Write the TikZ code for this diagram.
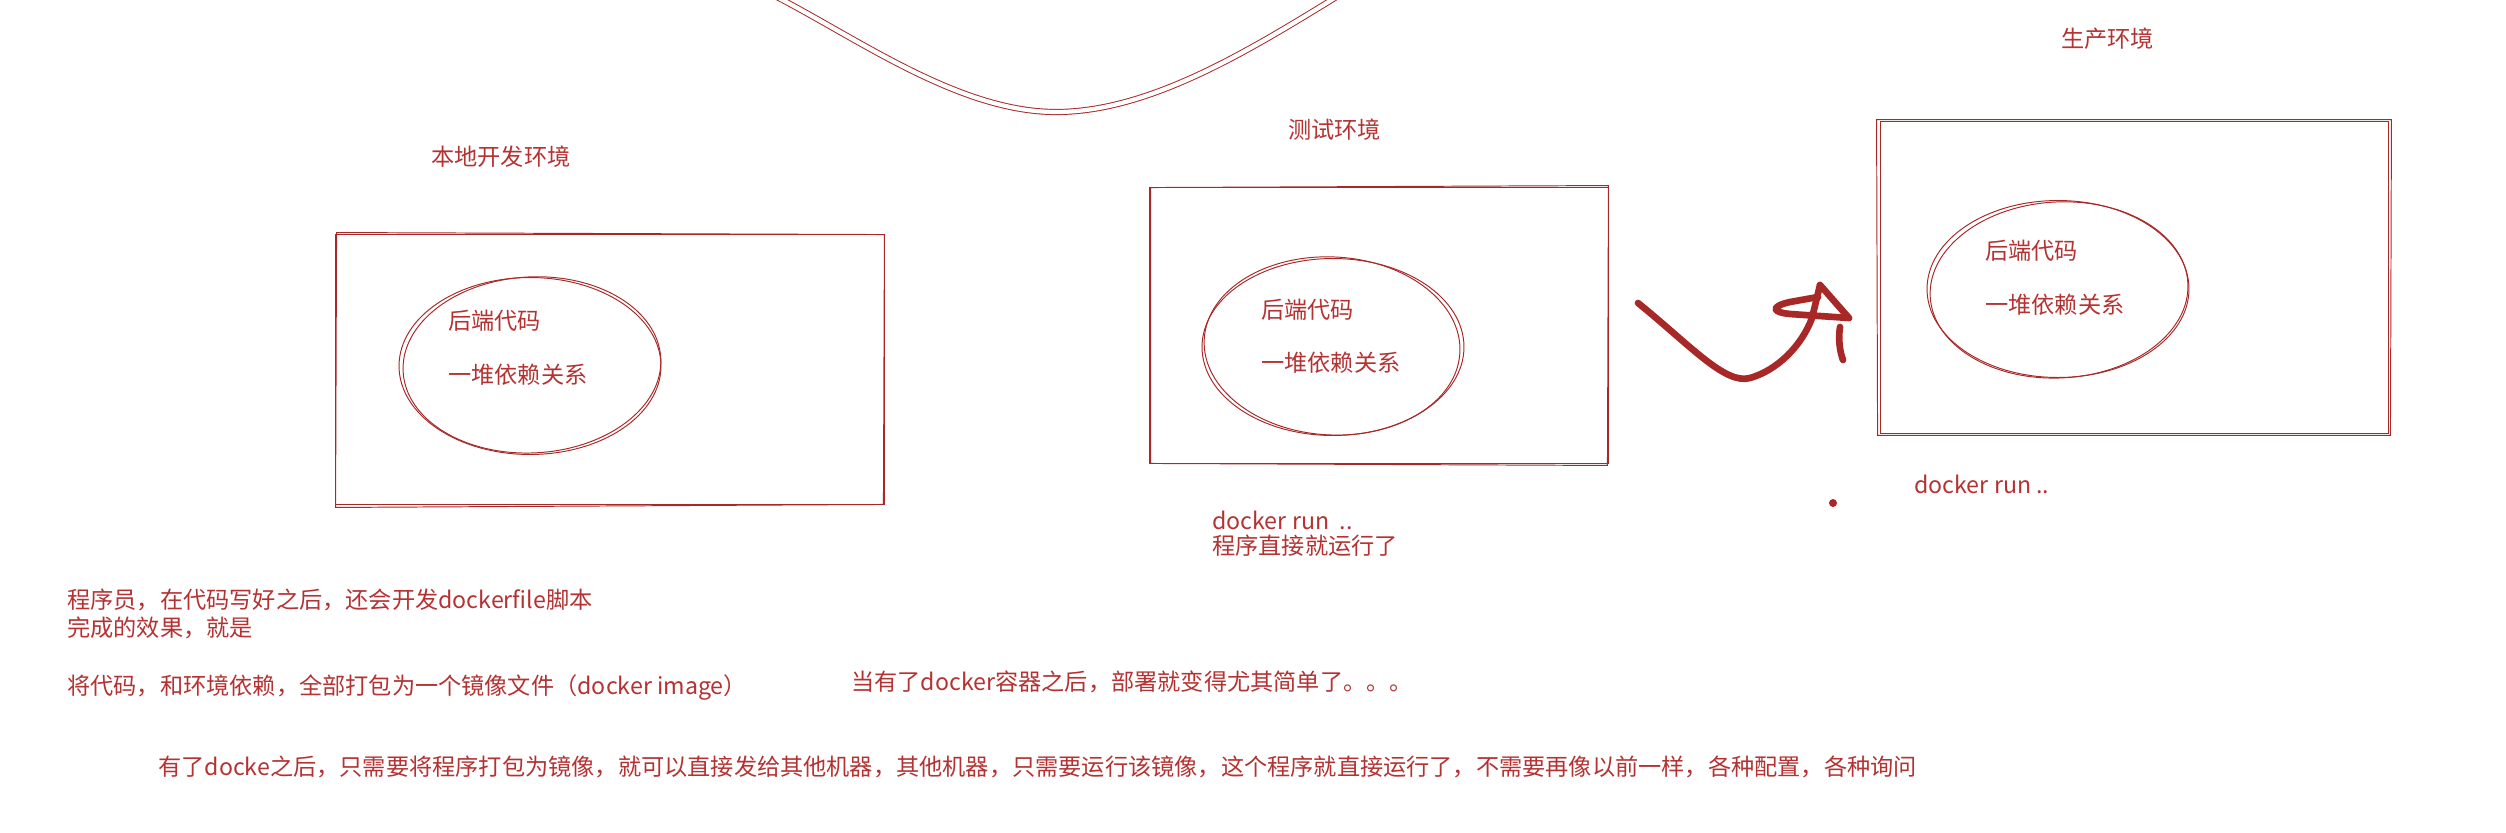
\documentclass[tikz,border=0pt]{standalone}
\usepackage{fontspec}
\newfontfamily\cjk{Noto Sans CJK SC}
\usetikzlibrary{shapes.geometric,positioning}
\definecolor{inkred}{RGB}{180,50,50}
\definecolor{penred}{RGB}{168,40,40}
\tikzset{
  pen/.style={draw=penred, line width=0.55pt},
  envbox/.style={pen, rectangle, inner sep=0pt},
  blob/.style={pen, ellipse, inner sep=0pt, minimum width=5.24cm, minimum height=3.54cm},
  note/.style={text=inkred, font=\cjk\fontsize{13.2}{16}\selectfont, inner sep=0pt, anchor=west},
  stroke/.style={draw=penred, line width=3.8pt, line cap=round, line join=round},
}

\begin{document}
\begin{tikzpicture}[x=0.02cm, y=-0.02cm]
    \useasboundingbox (0,0) rectangle (2506,832);

    \draw[pen, double=white, double distance=2.4pt] (775,-4) .. controls (860,40) and (960,112) .. (1056,112) .. controls (1150,112) and (1250,50) .. (1338,-4);

    \node[note] (dev) at (431,157) {本地开发环境};
    \node[envbox, minimum width=11cm, minimum height=5.42cm] (box1) at (610,369.5) {};
    \draw[pen] ([shift={(2,-1)}]box1.north west) -- ([shift={(-1,1)}]box1.north east) -- ([shift={(-2,-1)}]box1.south east) -- ([shift={(1,2)}]box1.south west) -- cycle;
    \node[blob] (e1) at (530,366) {};
    \draw[pen, rotate around={3:(e1.center)}] ([shift={(2,-1)}]e1.center) ellipse [x radius=129, y radius=88];
    \node[note] (code1) at (448,321) {后端代码};
    \node[note] (deps1) at (448,375) {一堆依赖关系};

    \node[note] (test) at (1288,130) {测试环境};
    \node[envbox, minimum width=9.2cm, minimum height=5.54cm] (box2) at (1379,325.5) {};
    \draw[pen] ([shift={(2,1)}]box2.north west) -- ([shift={(-1,-1)}]box2.north east) -- ([shift={(-2,1)}]box2.south east) -- ([shift={(2,-1)}]box2.south west) -- cycle;
    \node[blob] (e2) at (1333,347) {};
    \draw[pen, rotate around={-3:(e2.center)}] ([shift={(-1,-1)}]e2.center) ellipse [x radius=128, y radius=89];
    \node[note] (code2) at (1261,310) {后端代码};
    \node[note] (deps2) at (1261,363) {一堆依赖关系};
    \node[note] (run2) at (1212,520) {docker run\ \ ..};
    \node[note] (go2) at (1212,546) {程序直接就运行了};

    \node[note] (prod) at (2061,39) {生产环境};
    \node[envbox, minimum width=10.18cm, minimum height=6.26cm] (box3) at (2134.5,277.5) {};
    \draw[pen] ([shift={(-3,-1)}]box3.north west) -- ([shift={(2,-1)}]box3.north east) -- ([shift={(1,1)}]box3.south east) -- ([shift={(-2,1)}]box3.south west) -- cycle;
    \node[blob] (e3) at (2058,289) {};
    \draw[pen, rotate around={3:(e3.center)}] ([shift={(1,1)}]e3.center) ellipse [x radius=129, y radius=88];
    \node[note] (code3) at (1985,251) {后端代码};
    \node[note] (deps3) at (1985,305) {一堆依赖关系};
    \node[note] (run3) at (1914,484) {docker run ..};
    \node[circle, fill=penred, inner sep=0pt, minimum size=0.16cm] (dot) at (1833,503) {};

    \coordinate (a0) at (1638,303);
    \coordinate (tip) at (1820,285);
    \draw[stroke] (a0) .. controls (1690,345) and (1725,385) .. (1750,378) .. controls (1778,370) and (1802,345) .. (1812,318) -- (tip);
    \draw[stroke] (tip) -- (1849,318) -- (1790,314) .. controls (1770,312) and (1772,306) .. (1790,302) -- (1818,297);
    \draw[stroke] (1840,327) .. controls (1838,340) and (1840,352) .. (1843,360);

    \node[note] (why1) at (67,600) {程序员，在代码写好之后，还会开发dockerfile脚本};
    \node[note] (why2) at (67,628) {完成的效果，就是};
    \node[note] (why3) at (67,687) {将代码，和环境依赖，全部打包为一个镜像文件（docker image）};
    \node[note] (easy) at (851,682) {当有了docker容器之后，部署就变得尤其简单了。。。};
    \node[note] (sum) at (158,767) {有了docke之后，只需要将程序打包为镜像，就可以直接发给其他机器，其他机器，只需要运行该镜像，这个程序就直接运行了，不需要再像以前一样，各种配置，各种询问};
\end{tikzpicture}
\end{document}
